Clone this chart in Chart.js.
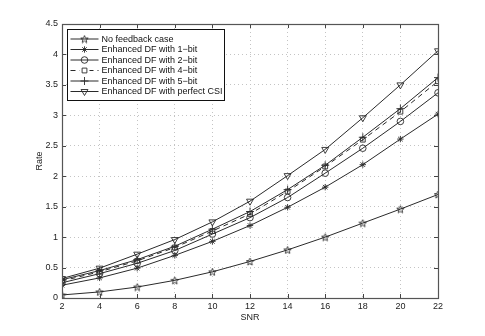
<!DOCTYPE html>
<html>
<head>
<meta charset="utf-8">
<script src="https://cdn.jsdelivr.net/npm/chart.js@4/dist/chart.umd.min.js"></script>
<style>
  html, body { margin: 0; padding: 0; background: #fff; }
  #wrap { width: 485px; height: 336px; position: relative; }
</style>
</head>
<body>
<div id="wrap"><canvas id="c" width="485" height="336"></canvas></div>
<script>
// ---- data ----
const snr = [2, 4, 6, 8, 10, 12, 14, 16, 18, 20, 22];
const noFeedback = [0.05, 0.10, 0.18, 0.29, 0.43, 0.60, 0.79, 1.00, 1.23, 1.46, 1.70];
const df1bit     = [0.21, 0.33, 0.49, 0.70, 0.93, 1.19, 1.49, 1.82, 2.19, 2.61, 3.02];
const df2bit     = [0.25, 0.40, 0.57, 0.78, 1.05, 1.32, 1.65, 2.05, 2.46, 2.90, 3.37];
const df4bit     = [0.28, 0.43, 0.61, 0.83, 1.10, 1.38, 1.75, 2.16, 2.60, 3.06, 3.56];
const df5bit     = [0.30, 0.45, 0.63, 0.85, 1.13, 1.42, 1.78, 2.18, 2.64, 3.11, 3.62];
const dfPerfect  = [0.32, 0.49, 0.72, 0.96, 1.25, 1.59, 2.01, 2.44, 2.96, 3.50, 4.06];
const seriesNames = ['No feedback case', 'Enhanced DF with 1\u2212bit', 'Enhanced DF with 2\u2212bit',
                     'Enhanced DF with 4\u2212bit', 'Enhanced DF with 5\u2212bit', 'Enhanced DF with perfect CSI'];
const xTickLabels = ['2','4','6','8','10','12','14','16','18','20','22'];
const yTickLabels = ['0','0.5','1','1.5','2','2.5','3','3.5','4','4.5'];

const LINE = '#2a2a2a';
const FONT = 'Liberation Sans, Arial, Helvetica, sans-serif';

// pentagram marker image
function makePentagram(size) {
  const c = document.createElement('canvas');
  c.width = size; c.height = size;
  const g = c.getContext('2d');
  const cx = size / 2, cy = size / 2 + 0.4, R = size / 2 - 0.6, r = R * 0.42;
  g.beginPath();
  for (let i = 0; i < 10; i++) {
    const ang = -Math.PI / 2 + i * Math.PI / 5;
    const rr = i % 2 === 0 ? R : r;
    const px = cx + rr * Math.cos(ang), py = cy + rr * Math.sin(ang);
    if (i === 0) g.moveTo(px, py); else g.lineTo(px, py);
  }
  g.closePath();
  g.lineWidth = 0.9;
  g.strokeStyle = LINE;
  g.stroke();
  return c;
}
const pentagram = makePentagram(9);

function pts(arr) { return arr.map((v, i) => ({ x: snr[i], y: v })); }

const styles = [
  { pointStyle: pentagram, radius: 4, rotation: 0, dash: [] },
  { pointStyle: 'star', radius: 3.2, rotation: 0, dash: [] },
  { pointStyle: 'circle', radius: 3.3, rotation: 0, dash: [] },
  { pointStyle: 'rect', radius: 3.4, rotation: 0, dash: [5, 4] },
  { pointStyle: 'cross', radius: 4, rotation: 0, dash: [] },
  { pointStyle: 'triangle', radius: 4, rotation: 180, dash: [] }
];
const seriesData = [noFeedback, df1bit, df2bit, df4bit, df5bit, dfPerfect];

const datasets = seriesData.map((d, i) => ({
  label: seriesNames[i],
  data: pts(d),
  borderColor: LINE,
  backgroundColor: 'rgba(0,0,0,0)',
  borderWidth: 1,
  borderDash: styles[i].dash,
  pointStyle: styles[i].pointStyle,
  pointRadius: styles[i].radius,
  pointRotation: styles[i].rotation,
  pointBorderColor: LINE,
  pointBackgroundColor: 'rgba(0,0,0,0)',
  pointBorderWidth: 0.9,
  tension: 0
}));

const framePlugin = {
  id: 'frame',
  afterDraw(chart) {
    const ctx = chart.ctx;
    const a = chart.chartArea;
    const xs = chart.scales.x, ys = chart.scales.y;
    ctx.save();
    // inner ticks
    ctx.strokeStyle = '#444';
    ctx.lineWidth = 1;
    const TL = 4;
    ctx.beginPath();
    snr.forEach(v => {
      const px = Math.round(xs.getPixelForValue(v)) + 0.5;
      ctx.moveTo(px, a.bottom); ctx.lineTo(px, a.bottom - TL);
      ctx.moveTo(px, a.top); ctx.lineTo(px, a.top + TL);
    });
    yTickLabels.forEach(t => {
      const py = Math.round(ys.getPixelForValue(parseFloat(t))) + 0.5;
      ctx.moveTo(a.left, py); ctx.lineTo(a.left + TL, py);
      ctx.moveTo(a.right, py); ctx.lineTo(a.right - TL, py);
    });
    ctx.stroke();
    // frame
    ctx.strokeStyle = '#555';
    ctx.lineWidth = 1.2;
    ctx.strokeRect(Math.round(a.left) + 0.5, Math.round(a.top) + 0.5,
                   Math.round(a.right - a.left), Math.round(a.bottom - a.top));

    // legend box
    const lx = Math.round(a.left) + 5.5, ly = Math.round(a.top) + 5.5;
    ctx.font = '9px ' + FONT;
    let maxW = 0;
    seriesNames.forEach(n => { maxW = Math.max(maxW, ctx.measureText(n).width); });
    const rowH = 10.5;
    const textX = lx + 34;
    const boxW = Math.round(textX - lx + maxW + 2);
    const boxH = Math.round(rowH * seriesNames.length + 8);
    ctx.fillStyle = '#fff';
    ctx.fillRect(lx, ly, boxW, boxH);
    ctx.strokeStyle = '#111';
    ctx.lineWidth = 1;
    ctx.strokeRect(lx, ly, boxW, boxH);
    seriesNames.forEach((n, i) => {
      const cy = ly + 9.5 + i * rowH;
      ctx.strokeStyle = LINE;
      ctx.lineWidth = 1;
      ctx.setLineDash(styles[i].dash.length ? [5, 4] : []);
      ctx.beginPath();
      ctx.moveTo(lx + 3, cy); ctx.lineTo(lx + 31, cy);
      ctx.stroke();
      ctx.setLineDash([]);
      if (styles[i].dash.length) {
        ctx.fillStyle = '#fff';
        ctx.fillRect(lx + 12, cy - 3, 10, 6);
      }
      if (Chart.helpers && Chart.helpers.drawPoint) {
        ctx.save();
        ctx.strokeStyle = LINE;
        ctx.fillStyle = 'rgba(0,0,0,0)';
        ctx.lineWidth = 0.9;
        Chart.helpers.drawPoint(ctx, {
          pointStyle: styles[i].pointStyle,
          radius: styles[i].radius,
          rotation: styles[i].rotation,
          borderWidth: 0.9
        }, lx + 17, cy);
        ctx.restore();
      }
      ctx.fillStyle = '#111';
      ctx.textBaseline = 'middle';
      ctx.textAlign = 'left';
      ctx.fillText(n, textX, cy + 0.5);
    });
    ctx.restore();
  }
};

new Chart(document.getElementById('c'), {
  type: 'line',
  data: { datasets },
  options: {
    responsive: false,
    animation: false,
    devicePixelRatio: 1,
    layout: { padding: { left: 0, top: 24, right: 47, bottom: 0 } },
    plugins: { legend: { display: false }, tooltip: { enabled: false } },
    scales: {
      x: {
        type: 'linear',
        min: 2, max: 22,
        afterBuildTicks(scale) { scale.ticks = snr.map(v => ({ value: v })); },
        afterFit(scale) { scale.height = 38; },
        ticks: {
          autoSkip: false, maxRotation: 0, padding: 3,
          color: '#222', font: { family: FONT, size: 9 },
          callback: (v, i) => xTickLabels[i]
        },
        grid: { color: '#c4c4c4', lineWidth: 1, drawTicks: false },
        border: { display: false, dash: [1, 3] },
        title: { display: true, text: 'SNR', color: '#222', font: { family: FONT, size: 9 },
                 padding: { top: 0, bottom: 13 } }
      },
      y: {
        type: 'linear',
        min: 0, max: 4.5,
        afterBuildTicks(scale) { scale.ticks = yTickLabels.map(t => ({ value: parseFloat(t) })); },
        afterFit(scale) { scale.width = 62; },
        ticks: {
          autoSkip: false, padding: 4,
          color: '#222', font: { family: FONT, size: 9 },
          callback: (v, i) => yTickLabels[i]
        },
        grid: { color: '#c4c4c4', lineWidth: 1, drawTicks: false },
        border: { display: false, dash: [1, 3] },
        title: { display: true, text: 'Rate', color: '#222', font: { family: FONT, size: 9 },
                 padding: { top: 34, bottom: 0 } }
      }
    }
  },
  plugins: [framePlugin]
});
</script>
</body>
</html>
